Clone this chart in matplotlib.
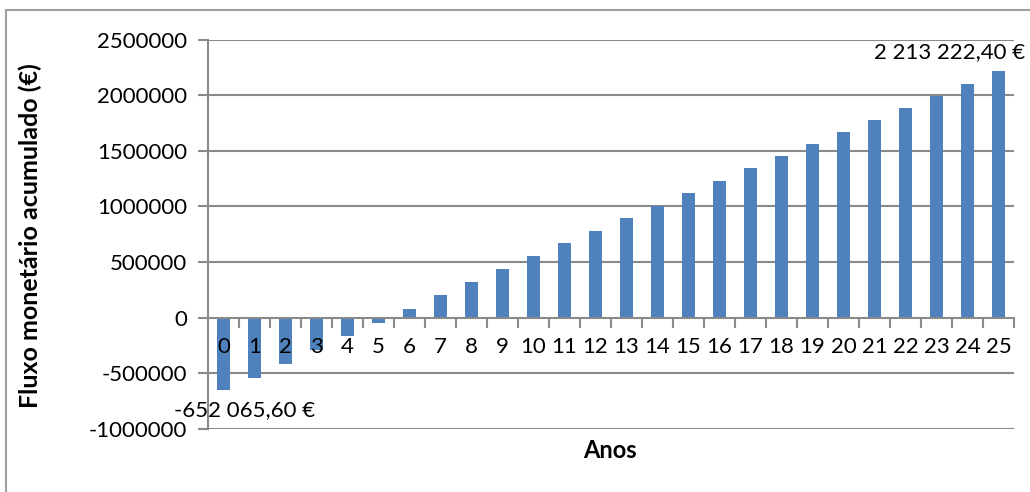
import matplotlib
matplotlib.use("Agg")
import matplotlib.pyplot as plt
from matplotlib.lines import Line2D
from matplotlib.ticker import FixedLocator, NullFormatter

# Data
anos = list(range(26))
fluxo = [-652065.60, -540000, -414000, -288000, -165000, -49000, 75000, 200000,
         318000, 438000, 553000, 668000, 782000, 893000, 1007000, 1121000,
         1232000, 1349000, 1457000, 1565000, 1673000, 1781000, 1888000,
         1996000, 2104000, 2213222.40]
yticks = [-1000000, -500000, 0, 500000, 1000000, 1500000, 2000000, 2500000]
label_first = "-652 065,60 €"
label_last = "2 213 222,40 €"

plt.rcParams['font.family'] = ['Lato', 'DejaVu Sans']

BAR = '#4F81BD'
GRID = '#8A8A8A'

fig = plt.figure(figsize=(10.3, 4.92), dpi=100)
ax = fig.add_axes([208/1030, 1-429/492, (1014-208)/1030, (429-39.5)/492])
ax.set_axisbelow(False)

ax.bar(anos, fluxo, width=0.4, color=BAR, zorder=2)

ax.set_xlim(-0.5, len(anos)-0.5)
ax.set_ylim(yticks[0], yticks[-1])
ax.set_yticks(yticks)
ax.set_yticklabels([str(v) for v in yticks], fontsize=16)
for y in yticks:
    if y != 0:
        ax.axhline(y, color=GRID, lw=1.5, zorder=1)

for s in ['top', 'right']:
    ax.spines[s].set_visible(False)
ax.spines['left'].set_color(GRID)
ax.spines['left'].set_linewidth(1.5)
ax.spines['bottom'].set_position(('data', 0))
ax.spines['bottom'].set_color(GRID)
ax.spines['bottom'].set_linewidth(1.5)

ax.set_xticks(anos)
ax.set_xticklabels([str(a) for a in anos], fontsize=16)
ax.tick_params(axis='x', which='major', length=0, pad=14)
ax.xaxis.set_minor_locator(FixedLocator([a + 0.5 for a in anos]))
ax.xaxis.set_minor_formatter(NullFormatter())
ax.tick_params(axis='x', which='minor', length=7, width=1.5, color=GRID, direction='out')
ax.tick_params(axis='y', length=7, width=1.5, color=GRID, pad=8)

ax.annotate(label_first, xy=(anos[0], fluxo[0]), xytext=(15, -14),
            textcoords='offset points', ha='center', va='center', fontsize=16,
            annotation_clip=False)
ax.annotate(label_last, xy=(anos[-1], fluxo[-1]), xytext=(-35, 14),
            textcoords='offset points', ha='center', va='center', fontsize=16,
            annotation_clip=False)

fig.text(30/1030, 1-236/492, "Fluxo monetário acumulado (€)", rotation=90,
         ha='center', va='center', fontsize=18, fontweight='bold')
fig.text(610/1030, 1-451/492, "Anos", ha='center', va='center',
         fontsize=17, fontweight='bold')

# chart area frame
fig.add_artist(Line2D([6/1030, 1.0], [1-10/492, 1-10/492], transform=fig.transFigure,
                      color='#A0A0A0', lw=1.5))
fig.add_artist(Line2D([6/1030, 6/1030], [1-10/492, 0.0], transform=fig.transFigure,
                      color='#A0A0A0', lw=1.5))

fig.savefig('out.png', dpi=100)
